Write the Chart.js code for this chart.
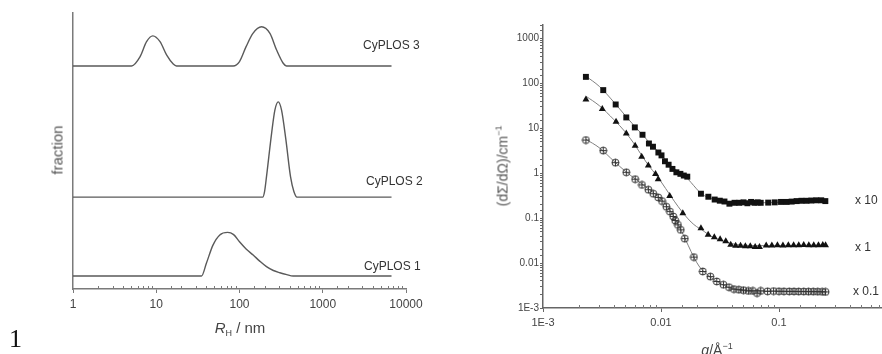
<!DOCTYPE html>
<html>
<head>
<meta charset="utf-8">
<script src="https://cdn.jsdelivr.net/npm/chart.js@4.4.1/dist/chart.umd.min.js"></script>
<style>
  html, body { margin: 0; padding: 0; background: #fff; }
  #page { position: relative; width: 882px; height: 354px; overflow: hidden; font-family: "Liberation Sans", Arial, sans-serif; }
  canvas { position: absolute; top: 0; }
  .lbl { position: absolute; white-space: nowrap; line-height: 1; color: #333; font-weight: 400; }
  .mid { transform: translate(-50%, -50%); }
  .rot { transform: translate(-50%, -50%) rotate(-90deg); }
  .vmid { transform: translateY(-50%); }
  sup { font-size: 9px; vertical-align: 6px; }
  sub { font-size: 9px; vertical-align: -3px; }
</style>
</head>
<body>
<div id="page">
  <canvas id="sizeChart" width="440" height="354" style="left:0"></canvas>
  <canvas id="sansChart" width="462" height="354" style="left:440px"></canvas>

  <div class="lbl rot" style="left:57px; top:150px; font-size:15px; color:#555">fraction</div>
  <div class="lbl mid" style="left:240px; top:329px; font-size:15px; color:#444"><i>R</i><sub>H</sub> / nm</div>
  <div class="lbl vmid" style="left:363px; top:45px; font-size:12px">CyPLOS 3</div>
  <div class="lbl vmid" style="left:366px; top:181px; font-size:12px">CyPLOS 2</div>
  <div class="lbl vmid" style="left:364px; top:266px; font-size:12px">CyPLOS 1</div>
  <div class="lbl" style="left:9px; top:326px; font-size:26px; font-family:'Liberation Serif', serif; color:#111">1</div>

  <div class="lbl rot" style="left:502px; top:166px; font-size:14px; color:#555">(dΣ/dΩ)/cm<sup>−1</sup></div>
  <div class="lbl mid" style="left:717px; top:349px; font-size:14px; color:#444"><i>q</i>/Å<sup>−1</sup></div>
  <div class="lbl vmid" style="left:855px; top:200px; font-size:12px">x 10</div>
  <div class="lbl vmid" style="left:855px; top:247px; font-size:12px">x 1</div>
  <div class="lbl vmid" style="left:853px; top:291px; font-size:12px">x 0.1</div>
</div>

<script>
// ---------- left panel: size distributions ----------
const rhTickLabels = ["1", "10", "100", "1000", "10000"];

const rhCyplos1 = [1, 35, 40, 48, 58, 72, 85, 100, 120, 146, 175, 211, 255, 305, 370, 440, 6700];
const fracCyplos1 = [0, 0, 4.6, 11.2, 14.9, 15.8, 15, 12.4, 9.8, 7.6, 5.4, 3.4, 2.0, 1.2, 0.5, 0, 0];

const rhCyplos2 = [1, 190, 200, 211, 243, 266, 292, 320, 361, 410, 450, 490, 6700];
const fracCyplos2 = [0, 0, 2, 7.4, 23.1, 31.5, 34.5, 31.5, 20.7, 7.4, 2, 0, 0];

const rhCyplos3 = [1, 5.05, 6.4, 7.65, 9.1, 11.1, 13.3, 16, 17.5, 84, 100, 120, 145, 184, 232, 279, 335, 367, 6700];
const fracCyplos3 = [0, 0, 3.4, 8.8, 10.9, 8.8, 4.0, 0.7, 0, 0, 1.6, 7.0, 11.8, 14.2, 11.8, 5.8, 1.0, 0, 0];

// vertical offsets used to stack the three curves
const stackOffsets = [4.7, 33.3, 80.8];

// ---------- right panel: SANS curves ----------
const qTickLabels = ["1E-3", "0.01", "0.1"];
const iTickLabels = ["1E-3", "0.01", "0.1", "1", "10", "100", "1000"];

const qX10 = [0.00231, 0.00324, 0.00413, 0.00508, 0.006, 0.00697, 0.0079, 0.00855, 0.0095, 0.0101, 0.0108, 0.0116, 0.0125, 0.0135, 0.0146, 0.0156, 0.0167,
  0.0218, 0.0252, 0.0285, 0.0315, 0.0345, 0.038, 0.042, 0.046, 0.05, 0.054, 0.058, 0.062, 0.066, 0.07,
  0.081, 0.092, 0.104, 0.116, 0.128, 0.141, 0.155, 0.171, 0.188, 0.207, 0.228, 0.247];
const iX10 = [140, 71, 34, 17.5, 10.5, 7.2, 4.6, 3.9, 2.9, 2.5, 1.85, 1.55, 1.25, 1.05, 0.97, 0.89, 0.84,
  0.35, 0.30, 0.26, 0.245, 0.235, 0.21, 0.22, 0.22, 0.225, 0.215, 0.23, 0.22, 0.225, 0.22,
  0.222, 0.225, 0.23, 0.23, 0.234, 0.24, 0.244, 0.244, 0.247, 0.25, 0.25, 0.24];

const qX1 = [0.00231, 0.00318, 0.00416, 0.00508, 0.00604, 0.00686, 0.00781, 0.00899, 0.00947, 0.01185, 0.0153,
  0.0218, 0.0251, 0.0283, 0.0317, 0.0354, 0.039, 0.0429, 0.0472, 0.0519, 0.0571, 0.0628, 0.0683,
  0.0779, 0.087, 0.097, 0.108, 0.12, 0.133, 0.147, 0.162, 0.179, 0.197, 0.216, 0.235, 0.248];
const iX1 = [44, 26.8, 14.0, 7.7, 4.1, 2.34, 1.48, 0.96, 0.74, 0.31, 0.129,
  0.06, 0.0426, 0.0378, 0.0341, 0.0308, 0.0255, 0.0242, 0.0242, 0.0238, 0.0238, 0.0229, 0.0229,
  0.0245, 0.0245, 0.025, 0.0245, 0.025, 0.0248, 0.025, 0.0252, 0.025, 0.0248, 0.025, 0.0252, 0.025];

const qX01 = [0.00231, 0.00324, 0.00411, 0.00508, 0.00604, 0.0069, 0.00781, 0.0086, 0.00947, 0.0102, 0.0111, 0.0119, 0.0127, 0.0132, 0.0139, 0.0147, 0.0159,
  0.019, 0.0226, 0.0262, 0.0297, 0.0338, 0.0377, 0.0415, 0.0457, 0.05, 0.055, 0.06, 0.0651, 0.07,
  0.08, 0.09, 0.1, 0.11, 0.122, 0.134, 0.147, 0.162, 0.178, 0.195, 0.213, 0.232, 0.248];
const iX01 = [5.5, 3.2, 1.72, 1.05, 0.74, 0.55, 0.43, 0.35, 0.29, 0.24, 0.18, 0.14, 0.109, 0.0885, 0.071, 0.055, 0.035,
  0.0136, 0.0065, 0.005, 0.0039, 0.0033, 0.0029, 0.00264, 0.00255, 0.0025, 0.0024, 0.0024, 0.00215, 0.0024,
  0.00235, 0.00238, 0.00236, 0.00235, 0.00234, 0.00234, 0.00233, 0.00233, 0.00232, 0.00232, 0.00231, 0.0023, 0.00228];

// fitted model curves
const qFit = [0.00231, 0.003, 0.004, 0.005, 0.006, 0.007, 0.008, 0.009, 0.01, 0.012, 0.014, 0.016, 0.018, 0.02, 0.022, 0.025, 0.028, 0.032, 0.036, 0.04, 0.05, 0.07, 0.1, 0.15, 0.2, 0.247];
const fitX10 = [145, 86, 38, 19, 11, 7.1, 4.8, 3.5, 2.6, 1.5, 1.1, 0.86, 0.62, 0.45, 0.35, 0.29, 0.262, 0.24, 0.23, 0.224, 0.22, 0.22, 0.225, 0.235, 0.242, 0.246];
const fitX1 = [52, 32, 15.5, 8.2, 4.3, 2.3, 1.4, 0.95, 0.65, 0.32, 0.18, 0.115, 0.082, 0.065, 0.056, 0.044, 0.037, 0.032, 0.029, 0.027, 0.025, 0.0245, 0.0245, 0.0248, 0.025, 0.025];
const fitX01 = [5.7, 3.7, 1.85, 1.1, 0.76, 0.56, 0.43, 0.34, 0.265, 0.145, 0.072, 0.035, 0.018, 0.0105, 0.0073, 0.0054, 0.0043, 0.0035, 0.003, 0.0027, 0.0025, 0.0024, 0.00236, 0.00234, 0.00232, 0.0023];

// ---------- helpers ----------
const axisGrey = "#7a7a7a";
const curveGrey = "#5a5a5a";
const isDecade = (v) => Math.abs(Math.log10(v) - Math.round(Math.log10(v))) < 1e-6;
const pts = (xs, ys, off = 0) => xs.map((x, i) => ({ x: x, y: ys[i] + off }));

// minor ticks of the log x axis point into the plot
const minorTicksInward = {
  id: "minorTicksInward",
  afterDraw(chart) {
    const s = chart.scales.x;
    const c = chart.ctx;
    c.save();
    c.strokeStyle = axisGrey;
    c.lineWidth = 1;
    s.ticks.forEach((t) => {
      if (isDecade(t.value)) return;
      const px = Math.round(s.getPixelForValue(t.value)) + 0.5;
      c.beginPath();
      c.moveTo(px, s.top);
      c.lineTo(px, s.top - 3);
      c.stroke();
    });
    c.restore();
  },
};

function ringCross() {
  const cv = document.createElement("canvas");
  cv.width = 9;
  cv.height = 9;
  const g = cv.getContext("2d");
  g.strokeStyle = "#333";
  g.lineWidth = 1;
  g.beginPath();
  g.arc(4.5, 4.5, 3.5, 0, Math.PI * 2);
  g.moveTo(4.5, 1);
  g.lineTo(4.5, 8);
  g.moveTo(1, 4.5);
  g.lineTo(8, 4.5);
  g.stroke();
  return cv;
}

// ---------- left chart ----------
const curveStyle = {
  showLine: true,
  pointRadius: 0,
  borderColor: curveGrey,
  borderWidth: 1.4,
  cubicInterpolationMode: "monotone",
};

new Chart(document.getElementById("sizeChart"), {
  type: "scatter",
  data: {
    datasets: [
      { label: "CyPLOS 1", data: pts(rhCyplos1, fracCyplos1, stackOffsets[0]), ...curveStyle },
      { label: "CyPLOS 2", data: pts(rhCyplos2, fracCyplos2, stackOffsets[1]), ...curveStyle },
      { label: "CyPLOS 3", data: pts(rhCyplos3, fracCyplos3, stackOffsets[2]), ...curveStyle },
    ],
  },
  options: {
    responsive: false,
    animation: false,
    layout: { padding: { left: 0, right: 34, top: 13, bottom: 0 } },
    plugins: { legend: { display: false }, tooltip: { enabled: false } },
    scales: {
      x: {
        type: "logarithmic",
        min: 1,
        max: 10000,
        afterFit: (s) => { s.height = 65; },
        border: { color: axisGrey, width: 1.5 },
        grid: {
          drawOnChartArea: false,
          tickLength: 4,
          tickColor: (c) => (c.tick && isDecade(c.tick.value) ? axisGrey : "rgba(0,0,0,0)"),
        },
        ticks: {
          autoSkip: false,
          maxRotation: 0,
          padding: 4,
          color: "#444",
          font: { family: "Liberation Sans", size: 12 },
          callback: (v) => (isDecade(v) ? rhTickLabels[Math.round(Math.log10(v))] : ""),
        },
      },
      y: {
        min: 0,
        max: 100,
        afterFit: (s) => { s.width = 73; },
        border: { color: axisGrey, width: 1.5 },
        grid: { display: false },
        ticks: { display: false },
      },
    },
  },
  plugins: [minorTicksInward],
});

// ---------- right chart ----------
const fitStyle = {
  showLine: true,
  pointRadius: 0,
  borderColor: "#808080",
  borderWidth: 1,
  cubicInterpolationMode: "monotone",
  order: 2,
};

new Chart(document.getElementById("sansChart"), {
  type: "scatter",
  data: {
    datasets: [
      { label: "x 10", data: pts(qX10, iX10), pointStyle: "rect", pointRadius: 4.2, backgroundColor: "#111", borderColor: "#111", borderWidth: 0, order: 1 },
      { label: "x 1", data: pts(qX1, iX1), pointStyle: "triangle", pointRadius: 4, backgroundColor: "#111", borderColor: "#111", borderWidth: 0, order: 1 },
      { label: "x 0.1", data: pts(qX01, iX01), pointStyle: ringCross(), order: 1 },
      { label: "fit x 10", data: pts(qFit, fitX10), ...fitStyle },
      { label: "fit x 1", data: pts(qFit, fitX1), ...fitStyle },
      { label: "fit x 0.1", data: pts(qFit, fitX01), ...fitStyle },
    ],
  },
  options: {
    responsive: false,
    animation: false,
    layout: { padding: { left: 0, right: 0, top: 25, bottom: 0 } },
    plugins: { legend: { display: false }, tooltip: { enabled: false } },
    scales: {
      x: {
        type: "logarithmic",
        min: 0.001,
        max: 1,
        afterFit: (s) => { s.height = 46; },
        border: { color: "#666", width: 1.5 },
        grid: {
          drawOnChartArea: false,
          tickLength: 4,
          tickColor: (c) => (c.tick && isDecade(c.tick.value) ? "#666" : "rgba(0,0,0,0)"),
        },
        ticks: {
          autoSkip: false,
          maxRotation: 0,
          padding: 4,
          color: "#444",
          font: { family: "Liberation Sans", size: 11 },
          callback: (v) => (isDecade(v) ? (qTickLabels[Math.round(Math.log10(v)) + 3] || "") : ""),
        },
      },
      y: {
        type: "logarithmic",
        min: 0.001,
        max: 2000,
        afterFit: (s) => { s.width = 103; },
        border: { color: "#666", width: 1.5 },
        grid: { drawOnChartArea: false, tickLength: 3, color: "#666" },
        ticks: {
          autoSkip: false,
          padding: 1,
          color: "#444",
          font: { family: "Liberation Sans", size: 10 },
          callback: (v) => (isDecade(v) ? (iTickLabels[Math.round(Math.log10(v)) + 3] || "") : ""),
        },
      },
    },
  },
  plugins: [minorTicksInward],
});
</script>
</body>
</html>
